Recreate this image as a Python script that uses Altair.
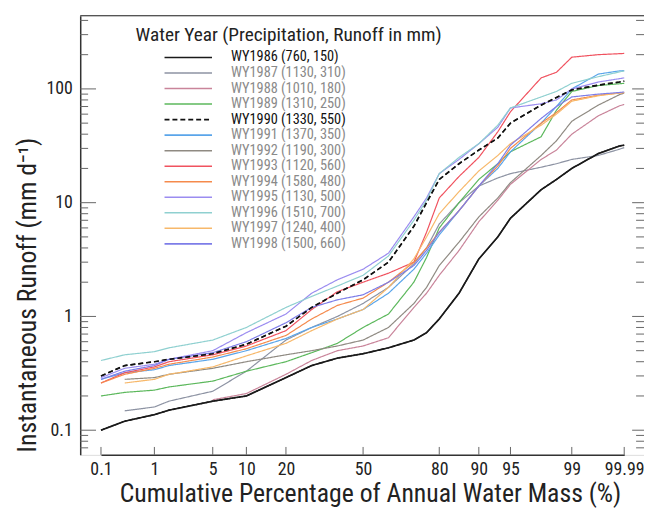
import altair as alt
import pandas as pd

# ---------------- data ----------------
PCT = [0.1, 0.5, 1, 2, 5, 10, 20, 30, 40, 50, 60, 70, 75, 80, 85, 90, 93, 95, 97, 98, 99, 99.5, 99.9, 99.99]

YEARS = [1986, 1987, 1988, 1989, 1990, 1991, 1992, 1993, 1994, 1995, 1996, 1997, 1998]
PRECIP = [760, 1130, 1010, 1310, 1330, 1370, 1190, 1120, 1580, 1130, 1510, 1240, 1500]
RUNOFF = [150, 310, 180, 250, 550, 350, 300, 560, 480, 500, 700, 400, 660]

WY1986 = [0.10, 0.12, 0.137, 0.15, 0.18, 0.20, 0.29, 0.37, 0.43, 0.47, 0.53, 0.62, 0.72, 0.95, 1.6, 3.2, 5.0, 7.3, 13.0, 16.0, 20.0, 27.0, 31.5, 32.0]
WY1987 = [None, 0.148, 0.16, 0.18, 0.22, 0.33, 0.62, 0.80, 1.0, 1.3, 1.8, 2.9, 4.0, 6.5, 10.0, 14.0, 16.5, 18.0, 20.5, 22.0, 24.0, 26.0, 29.5, 30.5]
WY1988 = [None, None, None, None, 0.185, 0.21, 0.31, 0.41, 0.50, 0.55, 0.65, 1.2, 1.6, 2.3, 3.8, 6.8, 10.5, 14.5, 24.0, 29.0, 40.0, 58.0, 71.0, 73.0]
WY1989 = [0.20, 0.215, 0.225, 0.24, 0.27, 0.33, 0.40, 0.48, 0.58, 0.80, 1.05, 2.0, 3.3, 6.0, 10.0, 16.0, 22.0, 28.0, 38.0, 65.0, 95.0, 107.0, 111.0, 112.0]
WY1990 = [0.30, 0.37, 0.40, 0.42, 0.47, 0.57, 0.82, 1.2, 1.6, 2.1, 3.0, 6.2, 10.0, 16.0, 22.0, 29.0, 37.0, 50.0, 72.0, 84.0, 98.0, 108.0, 115.0, 117.0]
WY1991 = [0.28, 0.32, 0.34, 0.37, 0.42, 0.50, 0.64, 0.80, 0.95, 1.15, 1.6, 2.6, 3.6, 5.2, 8.5, 14.0, 20.0, 28.0, 50.0, 70.0, 100.0, 135.0, 144.0, 145.0]
WY1992 = [None, 0.28, 0.29, 0.31, 0.35, 0.40, 0.46, 0.50, 0.55, 0.62, 0.80, 1.3, 1.8, 2.8, 4.5, 7.5, 11.0, 15.0, 26.0, 35.0, 52.0, 72.0, 89.0, 92.0]
WY1993 = [0.26, 0.32, 0.36, 0.40, 0.46, 0.55, 0.75, 1.15, 1.65, 2.0, 2.4, 3.0, 5.5, 11.0, 17.0, 25.0, 42.0, 63.0, 125.0, 140.0, 190.0, 200.0, 204.0, 205.0]
WY1994 = [0.26, 0.31, 0.35, 0.38, 0.44, 0.52, 0.68, 0.95, 1.25, 1.45, 2.0, 3.0, 4.0, 5.5, 8.5, 14.0, 21.0, 30.0, 50.0, 62.0, 80.0, 88.0, 92.0, 93.0]
WY1995 = [0.29, 0.35, 0.38, 0.42, 0.50, 0.72, 1.05, 1.6, 2.1, 2.6, 3.6, 7.5, 11.0, 18.0, 24.0, 33.0, 46.0, 68.0, 74.0, 80.0, 100.0, 115.0, 123.0, 125.0]
WY1996 = [0.41, 0.46, 0.49, 0.53, 0.62, 0.80, 1.2, 1.5, 1.85, 2.3, 3.4, 7.0, 10.5, 18.0, 25.0, 33.0, 48.0, 68.0, 85.0, 95.0, 112.0, 128.0, 141.0, 144.0]
WY1997 = [None, 0.26, 0.28, 0.31, 0.36, 0.45, 0.58, 0.75, 0.95, 1.15, 1.8, 3.2, 5.0, 8.0, 12.5, 19.0, 26.0, 33.0, 48.0, 60.0, 78.0, 87.0, 92.0, 93.0]
WY1998 = [0.28, 0.33, 0.37, 0.42, 0.48, 0.60, 0.88, 1.2, 1.4, 1.55, 2.0, 2.8, 3.8, 5.5, 8.5, 14.0, 22.0, 32.0, 55.0, 70.0, 85.0, 90.0, 93.0, 94.0]

SERIES = [WY1986, WY1987, WY1988, WY1989, WY1990, WY1991, WY1992,
          WY1993, WY1994, WY1995, WY1996, WY1997, WY1998]

COLORS = ["#1a1a1a", "#8d93a3", "#c9849a", "#5cb85c", "#111111", "#5aa5ea", "#8f8a82",
          "#f0525f", "#f58a4c", "#9b8cf0", "#8fd0d0", "#f7b86a", "#7d7de8"]

X_TICKS = [0.1, 1, 5, 10, 20, 50, 80, 90, 95, 99, 99.99]
Y_MAJOR = [0.1, 1, 10, 100]
Y_MINOR = [0.07, 0.08, 0.09, 0.2, 0.3, 0.4, 0.5, 0.6, 0.7, 0.8, 0.9,
           2, 3, 4, 5, 6, 7, 8, 9, 20, 30, 40, 50, 60, 70, 80, 90, 200, 300, 400]

# ---------------- build table ----------------
LABELS = [f"WY{y} ({p}, {r})" for y, p, r in zip(YEARS, PRECIP, RUNOFF)]
rows = []
for lab, yr, vals in zip(LABELS, YEARS, SERIES):
    for i, (p, v) in enumerate(zip(PCT, vals)):
        if v is not None:
            rows.append({"series": lab, "year": yr, "pct": p, "runoff": v, "i": i})
df = pd.DataFrame(rows)

W, H = 570, 444
FONT = "Roboto Condensed, Liberation Sans Narrow, DejaVu Sans Condensed, Roboto, sans-serif"

xscale = alt.Scale(type="linear", domain=X_TICKS,
                   range=[21, 75, 134, 168, 208, 286, 363, 403, 435, 497, 550],
                   zero=False, nice=False)
yscale = alt.Scale(type="log", domain=[0.0607, 440], nice=False)

DASH = [[1, 0] if y != 1990 else [5, 3] for y in YEARS]

legend = alt.Legend(
    title="Water Year (Precipitation, Runoff in mm)",
    orient="none", legendX=56, legendY=11,
    titleFont=FONT, titleFontSize=19.5, titleFontWeight="normal", titleColor="#222",
    titlePadding=4.5, titleLimit=500,
    labelFont=FONT, labelFontSize=14.5, labelLimit=300,
    labelColor={"expr": "(indexof(datum.label, 'WY1986') == 0 || indexof(datum.label, 'WY1990') == 0) ? '#111' : '#8a8a8a'"},
    symbolType="M-4,0H4", symbolSize=144, symbolStrokeWidth=1.6, symbolOffset=46,
    labelOffset=36, rowPadding=0.7, symbolLimit=20,
)

color_enc = alt.Color("series:N", scale=alt.Scale(domain=LABELS, range=COLORS), legend=legend, sort=LABELS)
dash_enc = alt.StrokeDash("series:N", scale=alt.Scale(domain=LABELS, range=DASH), legend=legend, sort=LABELS)

base = alt.Chart(df).encode(
    x=alt.X("pct:Q", scale=xscale,
            axis=alt.Axis(values=X_TICKS, labelExpr="toString(datum.value)",
                          title="Cumulative Percentage of Annual Water Mass (%)",
                          grid=False, ticks=False, labelOverlap=False, labelFlush=False,
                          labelFont=FONT, labelFontSize=18, labelColor="#222", labelPadding=6,
                          titleFont=FONT, titleFontSize=26, titleFontWeight="normal", titleColor="#222",
                          titlePadding=2, titleX=293, domainColor="#333", domainWidth=1.5)),
    y=alt.Y("runoff:Q", scale=yscale,
            axis=alt.Axis(values=Y_MAJOR, labelExpr="toString(datum.value)",
                          title="Instantaneous Runoff (mm d⁻¹)",
                          grid=False, ticks=False, labelOverlap=False, labelFlush=False,
                          labelFont=FONT, labelFontSize=18, labelColor="#222", labelPadding=8,
                          titleFont=FONT, titleFontSize=26, titleFontWeight="normal", titleColor="#222",
                          titlePadding=6, titleY=282, domainColor="#333", domainWidth=1.5)),
    color=color_enc,
    strokeDash=dash_enc,
    order="i:Q",
)

lines = base.mark_line(strokeWidth=1.2)
top_lines = base.transform_filter("datum.year == 1986 || datum.year == 1990").mark_line(strokeWidth=1.7)

ymaj = pd.DataFrame({"runoff": Y_MAJOR})
ymin = pd.DataFrame({"runoff": Y_MINOR})
xt = pd.DataFrame({"pct": X_TICKS})

tick_col = "#666"
lt_major = alt.Chart(ymaj).mark_rule(color=tick_col, strokeWidth=1).encode(
    y=alt.Y("runoff:Q", scale=yscale), x=alt.value(0), x2=alt.value(16))
lt_minor = alt.Chart(ymin).mark_rule(color=tick_col, strokeWidth=1).encode(
    y=alt.Y("runoff:Q", scale=yscale), x=alt.value(0), x2=alt.value(8))
rt_major = alt.Chart(ymaj).mark_rule(color=tick_col, strokeWidth=1).encode(
    y=alt.Y("runoff:Q", scale=yscale), x=alt.value(W - 12), x2=alt.value(W))
rt_minor = alt.Chart(ymin).mark_rule(color=tick_col, strokeWidth=1).encode(
    y=alt.Y("runoff:Q", scale=yscale), x=alt.value(W - 8), x2=alt.value(W))
xticks = alt.Chart(xt).mark_rule(color=tick_col, strokeWidth=1).encode(
    x=alt.X("pct:Q", scale=xscale), y=alt.value(H - 8), y2=alt.value(H))
top_line = alt.Chart(pd.DataFrame({"a": [0]})).mark_rule(color="#555", strokeWidth=1.2).encode(
    x=alt.value(0), x2=alt.value(W), y=alt.value(0))

chart = alt.layer(
    lines, top_lines, lt_major, lt_minor, rt_major, rt_minor, xticks, top_line
).properties(
    width=W, height=H,
    autosize=alt.AutoSizeParams(type="none"),
    padding={"left": 73, "top": 5, "right": 0, "bottom": 58},
).configure_view(stroke=None).configure(background="white")

chart.save("out.html", embed_options={"renderer": "svg", "actions": False})
